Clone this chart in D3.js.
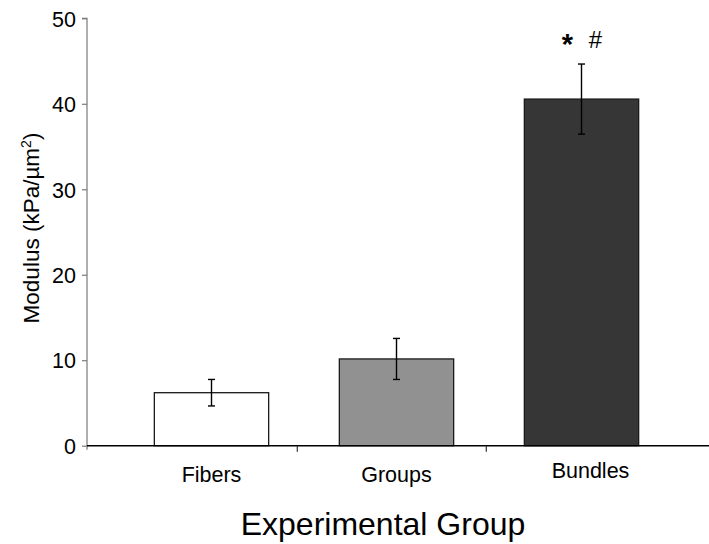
<!DOCTYPE html>
<html>
<head>
<meta charset="utf-8">
<script src="https://cdn.jsdelivr.net/npm/d3@7/dist/d3.min.js"></script>
<style>
  html, body { margin: 0; padding: 0; background: #fff; }
  svg { display: block; }
  text { font-family: "Liberation Sans", Arial, sans-serif; fill: #000; }
</style>
</head>
<body>
<svg id="chart" width="709" height="544"></svg>
<script>
// Modulus by experimental group (mean ± error)
const categories = ["Fibers", "Groups", "Bundles"];
const modulus = [6.2, 10.15, 40.55];
const errors = [1.55, 2.4, 4.1];
const significance = [[], [], ["*", "#"]];
const yTicks = [0, 10, 20, 30, 40, 50];
const fills = ["#ffffff", "#919191", "#363636"];

const svg = d3.select("#chart");

const plot = { left: 87, top: 18.3, bottom: 445.7, right: 709 };

const y = d3.scaleLinear().domain([0, 50]).range([plot.bottom, plot.top]);

// bars sit in bands; separator ticks use their own slightly offset band scale
const x = d3.scaleBand().domain(categories).range([119, 674])
  .paddingInner(0.382).paddingOuter(0.191);
const xSep = d3.scaleBand().domain(categories).range([108.3, 675.3]);

// bars
svg.append("g").selectAll("rect").data(categories).join("rect")
  .attr("x", d => x(d))
  .attr("y", (d, i) => y(modulus[i]))
  .attr("width", x.bandwidth())
  .attr("height", (d, i) => y(0) - y(modulus[i]))
  .attr("fill", (d, i) => fills[i])
  .attr("stroke", "#1a1a1a")
  .attr("stroke-width", 1.3);

// error bars
const eb = svg.append("g").attr("stroke", "#000").attr("stroke-width", 1.4);
categories.forEach((c, i) => {
  const cx = x(c) + x.bandwidth() / 2;
  const hi = y(modulus[i] + errors[i]), lo = y(modulus[i] - errors[i]);
  eb.append("line").attr("x1", cx).attr("x2", cx).attr("y1", hi).attr("y2", lo);
  eb.append("line").attr("x1", cx - 3.5).attr("x2", cx + 3.5).attr("y1", hi).attr("y2", hi);
  eb.append("line").attr("x1", cx - 3.5).attr("x2", cx + 3.5).attr("y1", lo).attr("y2", lo);
});

// y axis
const yAxis = d3.axisLeft(y).tickValues(yTicks).tickSize(5).tickPadding(6);
const gy = svg.append("g").attr("transform", `translate(${plot.left},0)`).call(yAxis);
gy.select(".domain").attr("stroke", "#7a7a7a").attr("stroke-width", 1.2)
  .attr("d", `M-5,${plot.top}H0V${plot.bottom + 4}`);
gy.selectAll(".tick line").attr("stroke", "#7a7a7a").attr("stroke-width", 1.2);
gy.selectAll(".tick text").attr("font-size", 21.5).attr("font-family", "Liberation Sans, Arial, sans-serif")
  .attr("fill", "#000").attr("dy", "0.36em");

// x axis line
svg.append("line")
  .attr("x1", plot.left).attr("x2", plot.right)
  .attr("y1", plot.bottom).attr("y2", plot.bottom)
  .attr("stroke", "#000").attr("stroke-width", 1.4);

// separator ticks between categories
svg.append("g").selectAll("line").data(categories.slice(1)).join("line")
  .attr("x1", d => xSep(d)).attr("x2", d => xSep(d))
  .attr("y1", plot.bottom).attr("y2", plot.bottom + 6)
  .attr("stroke", "#333").attr("stroke-width", 1.2);

// category labels
const labelShift = { Bundles: { dx: 9, dy: -3.5 } };
svg.append("g").selectAll("text").data(categories).join("text")
  .attr("x", d => x(d) + x.bandwidth() / 2 + (labelShift[d] ? labelShift[d].dx : 0))
  .attr("y", d => 481.7 + (labelShift[d] ? labelShift[d].dy : 0))
  .attr("text-anchor", "middle")
  .attr("font-size", 21.5)
  .text(d => d);

// significance markers above bars
categories.forEach((c, i) => {
  const marks = significance[i];
  if (!marks.length) return;
  const cx = x(c) + x.bandwidth() / 2;
  const spread = 28;
  marks.forEach((m, k) => {
    svg.append("text")
      .attr("x", cx + (k - (marks.length - 1) / 2) * spread)
      .attr("y", m === "*" ? 54 : 48)
      .attr("text-anchor", "middle")
      .attr("font-size", m === "*" ? 29 : 24)
      .attr("font-weight", m === "*" ? "bold" : "normal")
      .text(m);
  });
});

// axis titles
svg.append("text")
  .attr("x", 383).attr("y", 535)
  .attr("text-anchor", "middle")
  .attr("font-size", 32)
  .text("Experimental Group");

const yt = svg.append("text")
  .attr("transform", `translate(39,${(plot.top + plot.bottom) / 2 - 4}) rotate(-90)`)
  .attr("text-anchor", "middle")
  .attr("font-size", 22.5);
yt.append("tspan").text("Modulus (kPa/µm");
yt.append("tspan").attr("font-size", 14).attr("dy", -8).text("2");
yt.append("tspan").attr("dy", 8).text(")");
</script>
</body>
</html>
